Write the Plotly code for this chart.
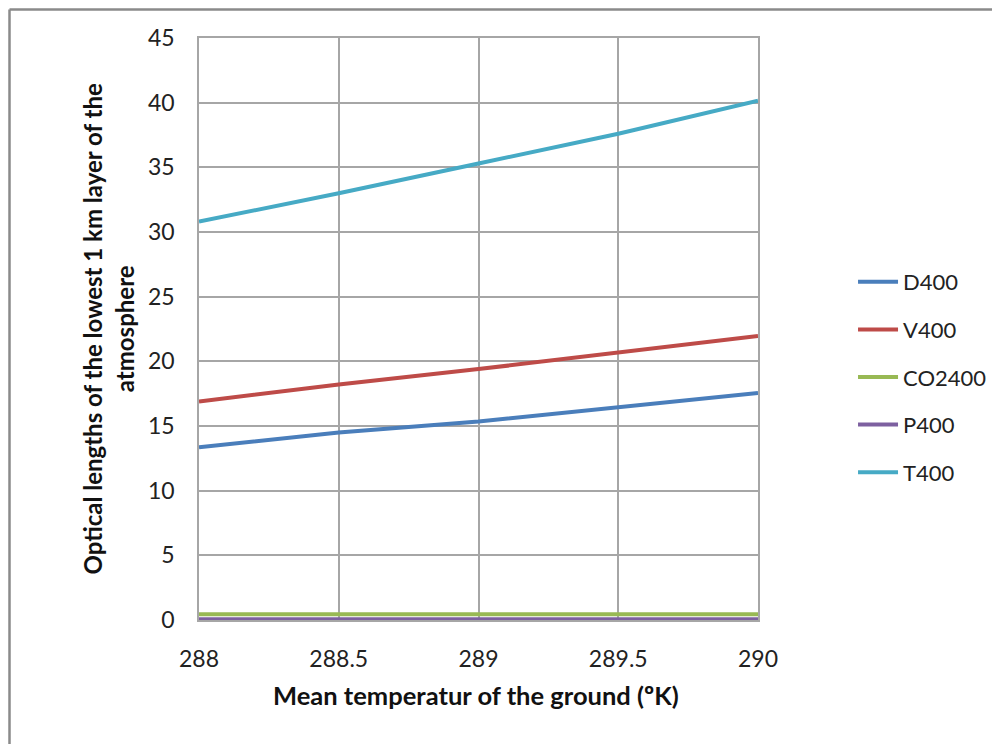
import plotly.graph_objects as go

temps = [288, 288.5, 289, 289.5, 290]
D400 = [13.35, 14.5, 15.35, 16.45, 17.55]
V400 = [16.9, 18.2, 19.4, 20.7, 21.95]
CO2400 = [0.45, 0.45, 0.45, 0.45, 0.45]
P400 = [0.05, 0.05, 0.05, 0.05, 0.05]
T400 = [30.8, 33.0, 35.3, 37.6, 40.15]
xticks = ["288", "288.5", "289", "289.5", "290"]

series = [
    ("D400", D400, "#4a7ebb"),
    ("V400", V400, "#be4b48"),
    ("CO2400", CO2400, "#98b954"),
    ("P400", P400, "#7d60a0"),
    ("T400", T400, "#46aac5"),
]

FONT = "Lato, Open Sans, sans-serif"
L, T, PW, PH = 191, 30, 559, 582

fig = go.Figure()
for name, vals, col in series:
    fig.add_trace(go.Scatter(x=temps, y=vals, name=name, mode="lines", legendgroup=name,
                             line=dict(color=col, width=4)))

bx = (1.5 - L) / PW
by = 1 + (T - 1.5) / PH

fig.update_layout(
    width=1000, height=744,
    margin=dict(l=L, r=250, t=T, b=132),
    plot_bgcolor="white", paper_bgcolor="white",
    font=dict(family=FONT, size=23, color="#222"),
    showlegend=True,
    legend=dict(x=1.17, xanchor="left", y=0.4175, yanchor="middle",
                font=dict(size=22, family=FONT, color="#222"),
                tracegroupgap=16, itemwidth=40, bgcolor="rgba(0,0,0,0)"),
    xaxis=dict(range=[288, 290], tickvals=temps, ticktext=xticks,
               showgrid=True, gridcolor="#a6a6a6", gridwidth=1.5,
               zeroline=False, showline=True, linecolor="#a6a6a6", linewidth=1.5,
               mirror=True, ticks="", ticklabelstandoff=18,
               tickfont=dict(size=23, family=FONT)),
    yaxis=dict(range=[0, 45], dtick=5,
               showgrid=True, gridcolor="#a6a6a6", gridwidth=1.5,
               zeroline=False, showline=True, linecolor="#a6a6a6", linewidth=1.5,
               mirror=True, ticks="", ticklabelstandoff=18,
               tickfont=dict(size=23, family=FONT)),
    annotations=[
        dict(text="<b>Mean temperatur of the ground (ºK)</b>", xref="paper", yref="paper",
             x=0.495, y=-0.129, xanchor="center", yanchor="middle", showarrow=False,
             font=dict(size=25.5, family=FONT, color="#111")),
        dict(text="<b>Optical lengths of the lowest 1 km layer of the<br>atmosphere</b>",
             xref="paper", yref="paper", x=-0.162, y=0.50, xanchor="center", yanchor="middle",
             textangle=-90, showarrow=False,
             font=dict(size=24, family=FONT, color="#111")),
    ],
    shapes=[
        dict(type="line", xref="paper", yref="paper", x0=bx, x1=bx,
             y0=-0.3, y1=by, line=dict(color="#8a8a8a", width=2.5)),
        dict(type="line", xref="paper", yref="paper", x0=bx, x1=1.6,
             y0=by, y1=by, line=dict(color="#8a8a8a", width=2.5)),
    ],
)

fig.write_html("out.html")
